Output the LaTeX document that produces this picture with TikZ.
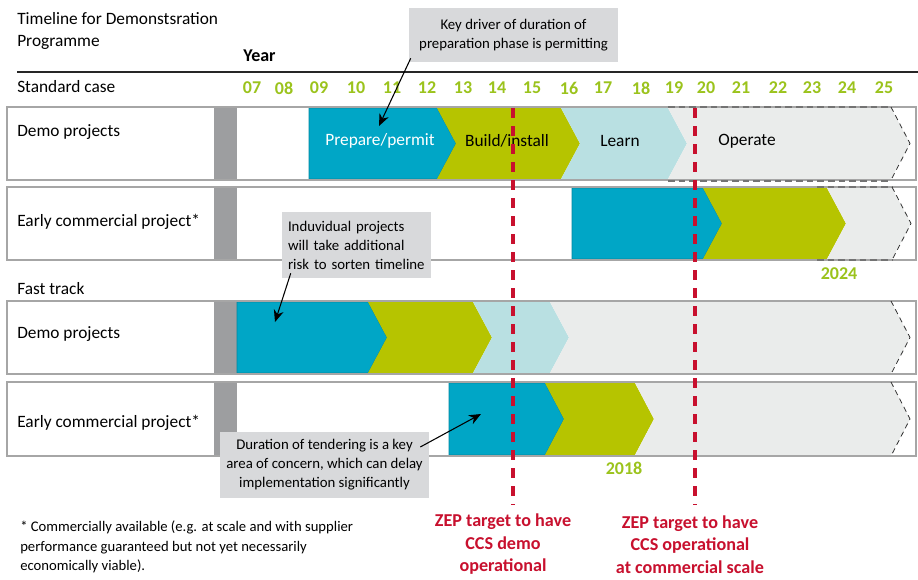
\documentclass[tikz,border=0pt]{standalone}
\usepackage{fontspec}
\setmainfont{Carlito}
\usetikzlibrary{calc,arrows.meta}
\definecolor{cteal}{HTML}{00A6C6}
\definecolor{ctealdark}{HTML}{00879F}
\definecolor{cyg}{HTML}{B6C400}
\definecolor{clb}{HTML}{B9E0E2}
\definecolor{clg}{HTML}{EAECEB}
\definecolor{cgreen}{HTML}{9BC31C}
\definecolor{cred}{HTML}{C8102E}
\definecolor{ccall}{HTML}{D8D9DB}
\definecolor{cborder}{HTML}{A6A6A6}
\definecolor{cbar}{HTML}{9D9EA0}
\newcommand\chevF[5]{\path[#1] (#2,#4) -- (#3,#4) -- ({#3+19},{(#4+#5)/2}) -- (#3,#5) -- (#2,#5) -- cycle;}
\newcommand\chevN[5]{\path[#1] (#2,#4) -- (#3,#4) -- ({#3+19},{(#4+#5)/2}) -- (#3,#5) -- (#2,#5) -- ({#2+19},{(#4+#5)/2}) -- cycle;}
\newcommand\chevTip[3]{\draw[tipdash] (#1,#2) -- ({#1+19},{(#2+#3)/2}) -- (#1,#3);}
\begin{document}
\begin{tikzpicture}[x=0.75pt,y=-0.75pt,
 lbl/.style={anchor=west,inner sep=0pt,font=\fontsize{13}{16.5}\selectfont},
 yearlbl/.style={inner sep=0pt,text=cgreen,font=\fontsize{13.5}{16}\selectfont\bfseries},
 rowbox/.style={draw=cborder,line width=1.3pt},
 barfill/.style={fill=cbar},
 tealc/.style={fill=cteal,draw=ctealdark,line width=0.5pt},
 ygc/.style={fill=cyg},
 lbc/.style={fill=clb},
 lgc/.style={fill=clg},
 tipdash/.style={draw=black!80,line width=0.6pt,dash pattern=on 4pt off 3pt},
 edgedash/.style={draw=black!55,line width=0.8pt,dash pattern=on 5pt off 3pt},
 chevtext/.style={inner sep=0pt,font=\fontsize{13}{16}\selectfont},
 callout/.style={fill=ccall,inner sep=0pt,align=center,font=\fontsize{11.1}{14.25}\selectfont},
 callarrow/.style={-{Stealth[length=9pt,width=7.5pt]},line width=0.8pt},
 zepline/.style={draw=cred,line width=2.6pt,dash pattern=on 7.5pt off 6pt},
 zeplbl/.style={text=cred,align=center,inner sep=0pt,font=\fontsize{13.6}{16.9}\selectfont\bfseries},
 yrnote/.style={inner sep=0pt,text=cgreen,font=\fontsize{13.5}{16}\selectfont\bfseries},
]
\useasboundingbox (0,0) rectangle (918,579);
\fill[white] (0,0) rectangle (918,579);

% header
\node[lbl,align=left,anchor=west] (title) at (17,31) {Timeline for Demonstsration\\Programme};
\node[inner sep=0pt,font=\fontsize{13.5}{16}\selectfont\bfseries] (year) at (259.5,56) {Year};
\coordinate (ruleL) at (17,72);
\coordinate (ruleR) at (918,72);
\draw[black!85,line width=1.1pt] (ruleL) -- (ruleR);
\node[lbl] (std) at (17,87) {Standard case};
\foreach \yr/\xx in {07/252,08/284,09/319,10/356,11/392,12/427,13/463,14/497,15/532,16/569,17/603,18/641,19/674,20/706,21/741,22/778,23/812,24/847,25/884}
  \node[yearlbl] (y\yr) at (\xx,88) {\yr};

% row 1 : standard demo
\fill[white] (7,107) rectangle (916,180);
\fill[barfill] (214,107) rectangle (237,180);
\chevF{tealc}{309}{437}{108}{179}
\chevN{ygc}{437}{561}{108}{179}
\chevN{lbc}{561}{668}{108}{179}
\chevN{lgc}{668}{891}{108}{179}
\draw[rowbox] (7,107) rectangle (916,180);
\draw[edgedash] (668,107) -- (891,107);
\draw[edgedash] (668,181) -- (891,181);
\chevTip{891}{107}{180}
\node[lbl] (r1) at (17,132) {Demo projects};
\node[chevtext,text=white] (p1) at (380,141) {Prepare/permit};
\node[chevtext] (b1) at (507,141) {Build/install};
\node[chevtext] (l1) at (620,141) {Learn};
\node[chevtext] (o1) at (747,141) {Operate};

% row 2 : standard early commercial
\fill[white] (7,187) rectangle (916,260);
\fill[barfill] (214,187) rectangle (237,260);
\chevF{tealc}{572}{703}{188}{259}
\chevN{ygc}{703}{827}{188}{259}
\chevN{lgc}{827}{892}{188}{259}
\draw[rowbox] (7,187) rectangle (916,260);
\draw[edgedash] (817,187) -- (892,187);
\draw[edgedash] (817,260) -- (892,260);
\chevTip{892}{187}{260}
\node[lbl] (r2) at (17,222) {Early commercial project*};
\node[yrnote] (n2024) at (839,274) {2024};

% fast track
\node[lbl] (fast) at (17,289) {Fast track};

% row 3 : fast demo
\fill[white] (7,301) rectangle (916,374);
\fill[barfill] (214,301) rectangle (237,374);
\chevF{tealc}{237}{368}{302}{373}
\chevN{ygc}{368}{473}{302}{373}
\chevN{lbc}{473}{550}{302}{373}
\chevN{lgc}{550}{891}{302}{373}
\draw[rowbox] (7,301) rectangle (916,374);
\chevTip{891}{301}{374}
\node[lbl] (r3) at (17,334) {Demo projects};

% row 4 : fast early commercial
\fill[white] (7,382) rectangle (916,456);
\fill[barfill] (214,382) rectangle (237,456);
\chevF{tealc}{449}{545}{383}{455}
\chevN{ygc}{545}{635}{383}{455}
\chevN{lgc}{635}{891}{383}{455}
\draw[rowbox] (7,382) rectangle (916,456);
\chevTip{891}{382}{456}
\node[lbl] (r4) at (17,423) {Early commercial project*};
\node[yrnote] (n2018) at (624,468) {2018};

% ZEP target lines
\coordinate (z1top) at (513,108);
\coordinate (z1bot) at (513,505);
\coordinate (z2top) at (695,108);
\coordinate (z2bot) at (695,505);
\draw[zepline] (z1top) -- (z1bot);
\draw[zepline] (z2top) -- (z2bot);
\node[zeplbl] (zep1) at (503,544.5) {ZEP target to have\\CCS demo\\operational};
\node[zeplbl] (zep2) at (690,544.5) {ZEP target to have\\CCS operational\\at commercial scale};

% callouts
\node[callout,minimum width=156.75pt,minimum height=40.5pt] (c1) at (513.5,35) {Key driver of duration of\\preparation phase is permitting};
\coordinate (t1) at (379,126);
\draw[callarrow] ($(c1.south west)+(2,-4)$) -- (t1);

\node[callout,minimum width=111.75pt,minimum height=49.5pt,text width=102.75pt,align=left] (c2) at (356.5,245) {Induvidual projects\\will take additional\\risk to sorten timeline};
\coordinate (t2) at (275,322);
\draw[callarrow] ($(c2.south west)+(9,-5)$) -- (t2);

\node[callout,minimum width=156.75pt,minimum height=49.5pt] (c3) at (324.5,465) {Duration of tendering is a key\\area of concern, which can delay\\implementation significantly};
\coordinate (t3) at (481,414);
\draw[callarrow] ($(c3.east)+(-9,-18)$) -- (t3);

% footnote
\node[inner sep=0pt,anchor=west,align=left,font=\fontsize{11}{14.6}\selectfont] (foot) at (20,547) {* Commercially available (e.g. at scale and with supplier\\performance guaranteed but not yet necessarily\\economically viable).};
\end{tikzpicture}
\end{document}
